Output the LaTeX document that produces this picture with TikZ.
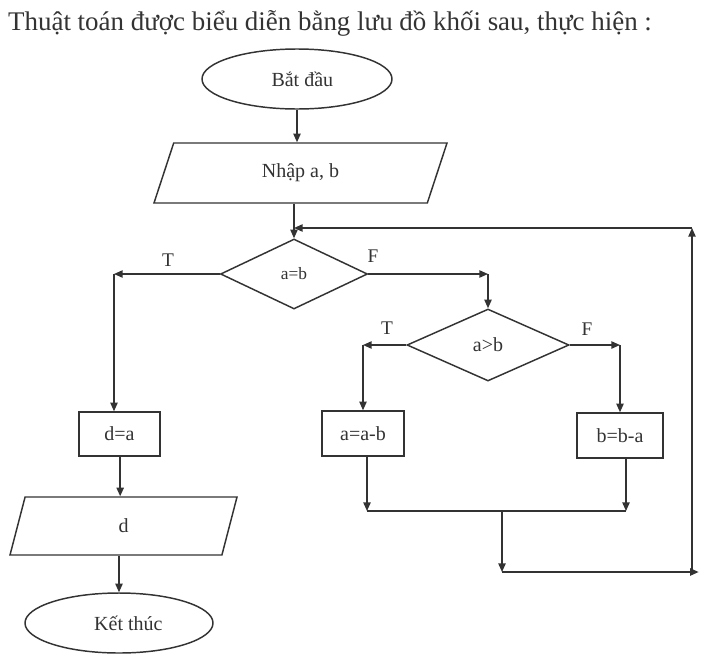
\documentclass[tikz,border=0pt]{standalone}
\usepackage{fontspec}
\setmainfont{Liberation Serif}
\usetikzlibrary{shapes.geometric,arrows.meta}
\begin{document}
\begin{tikzpicture}[x=0.75pt,y=-0.75pt,
  line width=1.1pt, color=black!80,
  every node/.style={font=\fontsize{15}{18}\selectfont},
  box/.style={draw, rectangle, inner sep=0pt},
  oval/.style={draw, ellipse, inner sep=0pt},
  dia/.style={draw, diamond, inner sep=0pt},
  para/.style={draw, trapezium, trapezium stretches body, inner sep=0pt},
  lbl/.style={font=\fontsize{14.5}{17}\selectfont},
  arr/.style={-{Triangle[length=6.5pt,width=5.5pt]}},
]
\fill[white] (0,0) rectangle (720,664);
\useasboundingbox (0,0) rectangle (720,664);

\node[anchor=base west, font=\fontsize{20.2}{24}\selectfont] (title) at (3,30)
  {Thuật toán được biểu diễn bằng lưu đồ khối sau, thực hiện :};

\node[oval, minimum width=142.5pt, minimum height=45pt] (start) at (297,79) {\hspace*{8pt}Bắt đầu};
\node[para, trapezium left angle=42.7, trapezium right angle=137.3,
      minimum width=219.75pt, minimum height=45pt] (in) at (300.5,173) {Nhập a, b};
\node[dia, minimum width=110.25pt, minimum height=52.5pt,
      font=\fontsize{13}{15}\selectfont] (d1) at (294,274) {a=b};
\node[dia, minimum width=121.5pt, minimum height=54pt] (d2) at (488,345) {a>b};
\node[box, minimum width=60.75pt, minimum height=33pt] (dA) at (119.5,434) {d=a};
\node[box, minimum width=61.5pt, minimum height=33.75pt] (rA) at (363,433.5) {a=a-b};
\node[box, minimum width=64.5pt, minimum height=33.75pt] (rB) at (620,435.5) {b=b-a};
\node[para, trapezium left angle=43, trapezium right angle=137,
      minimum width=170.25pt, minimum height=43.5pt] (out) at (123.5,526) {d};
\node[oval, minimum width=141pt, minimum height=45pt] (end) at (119,623) {\hspace*{14pt}Kết thúc};

\node[lbl] (t1) at (168,260) {T};
\node[lbl] (f1) at (373,256) {F};
\node[lbl] (t2) at (387,328) {T};
\node[lbl] (f2) at (587,329) {F};

\coordinate (cT) at (114,274);
\coordinate (cF) at (d1.east -| d2.north);
\coordinate (cT2) at (d2.west -| rA.north);
\coordinate (cF2) at (d2.east -| rB.north);
\coordinate (m) at (502,511);
\coordinate (b) at (502,572);
\coordinate (c) at (692,572);
\coordinate (t) at (692,228);
\coordinate (e) at (d1.north |- t);

\draw[arr] (start.south) -- (start.south |- in.north);
\draw[arr] (d1.north |- in.south) -- (d1.north);
\draw[arr] (d1.west) -- (cT);
\draw[arr] (cT) -- (cT |- dA.north);
\draw[arr] (d1.east) -- (cF);
\draw[arr] (cF) -- (d2.north);
\draw[arr] (d2.west) -- (cT2);
\draw[arr] (cT2) -- (rA.north);
\draw[arr] (d2.east) -- (cF2);
\draw[arr] (cF2) -- (rB.north);
\draw[arr] ([xshift=3pt]rA.south) -- ([xshift=3pt]rA.south |- m);
\draw[arr] ([xshift=4.5pt]rB.south) -- ([xshift=4.5pt]rB.south |- m);
\draw ([xshift=3pt]rA.south |- m) -- ([xshift=4.5pt]rB.south |- m);
\draw[arr] (m) -- (b);
\draw[arr] (b) -- ([xshift=5pt]c);
\draw[arr] (c) -- (t);
\draw[arr] (t) -- (e);
\draw[arr] ([xshift=0.5pt]dA.south) -- ([xshift=0.5pt]dA.south |- out.north);
\draw[arr] (end.north |- out.south) -- (end.north);
\end{tikzpicture}
\end{document}
